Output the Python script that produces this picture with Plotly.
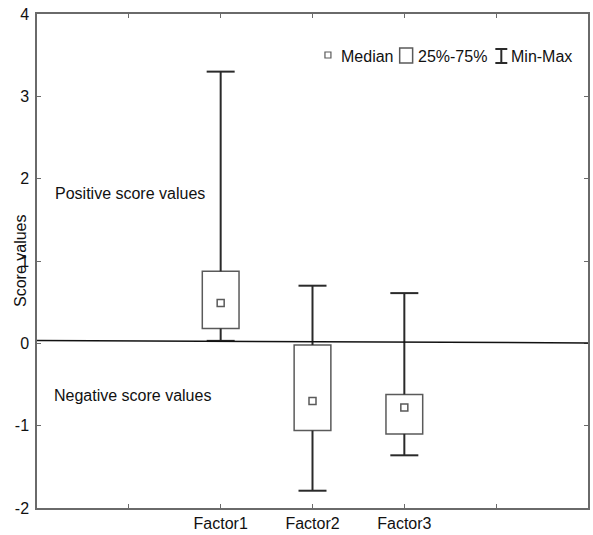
import plotly.graph_objects as go

# Summary statistics per factor
factors = ["Factor1", "Factor2", "Factor3"]
positions = [2, 3, 4]
minimum = [0.03, -1.79, -1.36]
q1 = [0.18, -1.06, -1.10]
median = [0.49, -0.70, -0.78]
q3 = [0.875, -0.02, -0.62]
maximum = [3.30, 0.70, 0.61]

x_tickvals = [1, 2, 3, 4, 5]
x_ticktext = ["", "Factor1", "Factor2", "Factor3", ""]
y_tickvals = [-2, -1, 0, 1, 2, 3, 4]
y_ticktext = ["-2", "-1", "0", "1", "2", "3", "4"]

FONT = "Liberation Sans, Arial, sans-serif"
BOX_COLOR = "#5a5a5a"
WHISKER_COLOR = "#2a2a2a"
AXIS_COLOR = "#6a6a6a"

fig = go.Figure()

# Whiskers: vertical stems from box edges to min / max
wx, wy = [], []
for p, lo, a, b, hi in zip(positions, minimum, q1, q3, maximum):
    wx += [p, p, None, p, p, None]
    wy += [b, hi, None, a, lo, None]
fig.add_trace(go.Scatter(x=wx, y=wy, mode="lines",
                         line=dict(color=WHISKER_COLOR, width=2),
                         hoverinfo="skip", showlegend=False))

# Whisker caps
fig.add_trace(go.Scatter(x=positions + positions, y=maximum + minimum, mode="markers",
                         marker=dict(symbol="line-ew", size=20,
                                     line=dict(color=WHISKER_COLOR, width=2)),
                         hoverinfo="skip", showlegend=False))

# 25%-75% boxes
fig.add_trace(go.Bar(x=positions, y=[b - a for a, b in zip(q1, q3)], base=q1,
                     width=0.4, marker=dict(color="white",
                                            line=dict(color=BOX_COLOR, width=1.5)),
                     hoverinfo="skip", showlegend=False))

# Medians
fig.add_trace(go.Scatter(x=positions, y=median, mode="markers",
                         marker=dict(symbol="square-open", size=7,
                                     line=dict(color=BOX_COLOR, width=1.5),
                                     color=BOX_COLOR),
                         hoverinfo="skip", showlegend=False))

shapes = [
    # zero reference line
    dict(type="line", xref="x", yref="y", x0=0, x1=6, y0=0.035, y1=0.005,
         line=dict(color="#111111", width=1.5), layer="above"),
    # legend: median marker
    dict(type="rect", xref="paper", yref="paper",
         x0=(326 - 37) / 553, x1=(332 - 37) / 553,
         y0=(508 - 58) / 494, y1=(508 - 52) / 494,
         line=dict(color=BOX_COLOR, width=1.2), fillcolor="white"),
    # legend: box
    dict(type="rect", xref="paper", yref="paper",
         x0=(401 - 37) / 553, x1=(414 - 37) / 553,
         y0=(508 - 63) / 494, y1=(508 - 48) / 494,
         line=dict(color=BOX_COLOR, width=1.5), fillcolor="white"),
    # legend: min-max I-beam
    dict(type="line", xref="paper", yref="paper",
         x0=(503 - 37) / 553, x1=(503 - 37) / 553,
         y0=(508 - 63) / 494, y1=(508 - 49) / 494,
         line=dict(color=WHISKER_COLOR, width=2)),
    dict(type="line", xref="paper", yref="paper",
         x0=(497 - 37) / 553, x1=(509 - 37) / 553,
         y0=(508 - 49) / 494, y1=(508 - 49) / 494,
         line=dict(color=WHISKER_COLOR, width=2)),
    dict(type="line", xref="paper", yref="paper",
         x0=(497 - 37) / 553, x1=(509 - 37) / 553,
         y0=(508 - 63) / 494, y1=(508 - 63) / 494,
         line=dict(color=WHISKER_COLOR, width=2)),
]

annotations = [
    dict(text="Positive score values", x=0.17, y=1.82, xref="x", yref="y",
         xanchor="left", yanchor="middle", showarrow=False,
         font=dict(family=FONT, size=16, color="#111111")),
    dict(text="Negative score values", x=0.16, y=-0.63, xref="x", yref="y",
         xanchor="left", yanchor="middle", showarrow=False,
         font=dict(family=FONT, size=16, color="#111111")),
    dict(text="Score values", x=0, y=0.5, xref="paper", yref="paper",
         xshift=-17, textangle=-90, xanchor="center", yanchor="middle",
         showarrow=False, font=dict(family=FONT, size=16, color="#111111")),
    dict(text="Median", x=(340 - 37) / 553, y=(508 - 56) / 494, xref="paper", yref="paper",
         xanchor="left", yanchor="middle", showarrow=False,
         font=dict(family=FONT, size=16, color="#111111")),
    dict(text="25%-75%", x=(417 - 37) / 553, y=(508 - 56) / 494, xref="paper", yref="paper",
         xanchor="left", yanchor="middle", showarrow=False,
         font=dict(family=FONT, size=16, color="#111111")),
    dict(text="Min-Max", x=(511 - 37) / 553, y=(508 - 56) / 494, xref="paper", yref="paper",
         xanchor="left", yanchor="middle", showarrow=False,
         font=dict(family=FONT, size=16, color="#111111")),
]

fig.update_layout(
    width=593, height=535,
    margin=dict(l=37, r=3, t=14, b=27),
    paper_bgcolor="white", plot_bgcolor="white",
    font=dict(family=FONT, size=16, color="#111111"),
    showlegend=False,
    shapes=shapes, annotations=annotations,
    xaxis=dict(range=[0, 6], tickvals=x_tickvals, ticktext=x_ticktext,
               ticks="inside", ticklen=4, tickcolor=AXIS_COLOR, showgrid=False,
               zeroline=False, showline=True, linecolor=AXIS_COLOR, linewidth=1.5,
               mirror="ticks", tickfont=dict(size=16)),
    yaxis=dict(range=[-2, 4], tickvals=y_tickvals, ticktext=y_ticktext,
               ticks="inside", ticklen=4, tickcolor=AXIS_COLOR, showgrid=False,
               zeroline=False, showline=True, linecolor=AXIS_COLOR, linewidth=1.5,
               mirror="ticks", tickfont=dict(size=16), ticklabelstandoff=3),
)

fig.write_html("out.html")
